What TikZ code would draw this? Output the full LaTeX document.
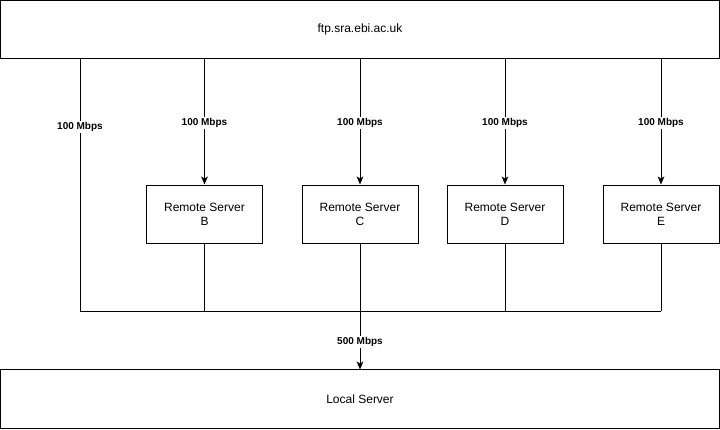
\documentclass[tikz,border=0pt]{standalone}
\usepackage{fontspec}
\setmainfont{Liberation Sans}
\usetikzlibrary{arrows.meta}
\begin{document}
\begin{tikzpicture}[x=0.75pt,y=-0.75pt,
  box/.style={draw,line width=0.75pt,inner sep=0pt,align=center,font=\fontsize{9pt}{10.5pt}\selectfont},
  wide/.style={box,minimum width=539.25pt,minimum height=43.5pt},
  srv/.style={box,minimum width=87pt,minimum height=43.5pt},
  conn/.style={line width=0.75pt},
  arr/.style={conn,-{Stealth[length=6pt,width=5pt,inset=1.5pt]}},
  lbl/.style={fill=white,inner sep=1pt,font=\bfseries\fontsize{7.5pt}{9pt}\selectfont}]
\useasboundingbox[fill=white] (0,0) rectangle (720,429);
\node[wide] (top) at (360,29.5) {ftp.sra.ebi.ac.uk};
\node[wide,minimum height=43.9pt] (local) at (360,399.25) {Local Server};
\node[srv] (B) at (204.5,214) {Remote Server\\B};
\node[srv] (C) at (360,214) {Remote Server\\C};
\node[srv] (D) at (505,214) {Remote Server\\D};
\node[srv] (E) at (661,214) {Remote Server\\E};
\coordinate (jl) at (80,311);
\coordinate (jr) at (661,311);
\draw[conn] (top.south -| jl) -- (jl) -- (jr);
\node[lbl] (l0) at (80,127) {100 Mbps};
\foreach \s in {B,C,D,E}{
  \draw[arr] (top.south -| \s.north) -- (\s.north);
  \node[lbl] (l\s) at (\s.north |- 0,123) {100 Mbps};
  \draw[conn] (\s.south) -- (\s.south |- jl);
}
\draw[arr] (C.south) -- (local.north);
\node[lbl] (l5) at (360,342) {500 Mbps};
\end{tikzpicture}
\end{document}
